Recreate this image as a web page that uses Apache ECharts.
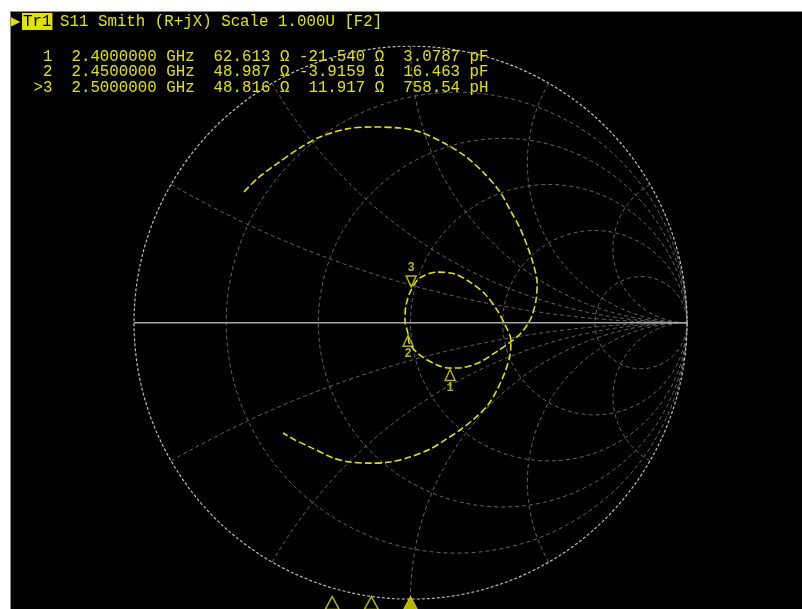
<!DOCTYPE html>
<html>
<head>
<meta charset="utf-8">
<script src="https://cdn.jsdelivr.net/npm/echarts@6/dist/echarts.min.js"></script>
<style>
  html, body { margin: 0; padding: 0; background: #fff; }
  #panel { position: absolute; left: 10px; top: 11px; width: 792px; height: 598px; box-sizing: border-box;
           background: #000; border-left: 1px solid #8a8a8a; border-top: 1px solid #8a8a8a; }
  #chart { position: absolute; left: 0; top: 0; width: 802px; height: 609px; }
</style>
</head>
<body>
<div id="panel"></div>
<div id="chart"></div>
<script>
// S11 trace, reflection coefficient (real / imaginary), 2.0 GHz -> 3.0 GHz
const traceGammaRe = [-0.602, -0.552, -0.490, -0.400, -0.327, -0.230, -0.139, -0.038, 0.034, 0.121,
  0.197, 0.266, 0.324, 0.360, 0.396, 0.421, 0.443, 0.458, 0.454, 0.436,
  0.403, 0.367, 0.316, 0.244, 0.172, 0.143, 0.096, 0.034, -0.005, -0.009,
  -0.020, -0.016, 0.003, 0.034, 0.096, 0.161, 0.215, 0.269, 0.313, 0.342,
  0.363, 0.360, 0.342, 0.313, 0.280, 0.233, 0.179, 0.125, 0.071, -0.002,
  -0.074, -0.146, -0.219, -0.280, -0.363, -0.418, -0.461];
const traceGammaIm = [0.473, 0.523, 0.570, 0.632, 0.672, 0.701, 0.708, 0.704, 0.690, 0.650,
  0.603, 0.541, 0.473, 0.408, 0.342, 0.281, 0.216, 0.144, 0.082, 0.017,
  -0.034, -0.066, -0.102, -0.146, -0.164, -0.164, -0.153, -0.117, -0.073, -0.040,
  0.010, 0.064, 0.120, 0.162, 0.183, 0.176, 0.147, 0.104, 0.046, -0.008,
  -0.063, -0.117, -0.178, -0.243, -0.298, -0.345, -0.388, -0.424, -0.457, -0.486,
  -0.504, -0.508, -0.504, -0.489, -0.450, -0.424, -0.399];

// Marker readout
const markerIds = [1, 2, 3];
const markerFreqGHz = [2.4, 2.45, 2.5];
const markerR = [62.613, 48.987, 48.816];      // ohm
const markerX = [-21.540, -3.9159, 11.917];    // ohm
const markerLC = [3.0787, 16.463, 758.54];
const markerLCUnit = ['pF', 'pF', 'pH'];
const activeMarker = 3;

const sweepStartGHz = 2.0;
const sweepStopGHz = 3.0;
const Z0 = 50;

// Smith grid: constant resistance circles and constant reactance arcs (normalized)
const resistanceCircles = [0.2, 0.5, 1, 2, 5];
const reactanceArcs = [0.268, 0.577, 1, 1.732, 3.732];

const titleText = 'S11 Smith (R+jX) Scale 1.000U [F2]';
const traceTag = 'Tr1';

const YELLOW = '#e2e200';
const MONO = '"Liberation Mono", "DejaVu Sans Mono", monospace';

function gammaOf(r, x) {
  const den = (r + 1) * (r + 1) + x * x;
  return [(r * r + x * x - 1) / den, (2 * x) / den];
}

function resistancePath(r) {
  const pts = [[1, 0]];
  for (let d = -89.5; d <= 89.5; d += 0.5) pts.push(gammaOf(r, Math.tan(d * Math.PI / 180)));
  pts.push([1, 0]);
  return pts;
}

function reactancePath(x) {
  const pts = [];
  for (let d = 0; d < 90; d += 0.5) pts.push(gammaOf(Math.tan(d * Math.PI / 180), x));
  pts.push([1, 0]);
  return pts;
}

function gridLine(data, color, dash, width) {
  return {
    type: 'line', xAxisIndex: 0, yAxisIndex: 0, data, showSymbol: false, silent: true,
    animation: false, z: 1,
    lineStyle: { color, width: width || 1, type: dash }
  };
}

const series = [];
resistanceCircles.forEach(r => series.push(gridLine(resistancePath(r), '#666666', [4, 3])));
reactanceArcs.forEach(x => {
  series.push(gridLine(reactancePath(x), '#666666', [4, 3]));
  series.push(gridLine(reactancePath(-x), '#666666', [4, 3]));
});
series.push(gridLine(resistancePath(0), '#bdbdbd', [3, 2], 1.2));
series.push(gridLine([[-1, 0], [1, 0]], '#a8a8a8', 'solid', 1.6));

// measured trace
series.push({
  type: 'line', xAxisIndex: 0, yAxisIndex: 0, showSymbol: false, animation: false, z: 5,
  smooth: 0.3,
  data: traceGammaRe.map((v, i) => [v, traceGammaIm[i]]),
  lineStyle: { color: YELLOW, width: 1.6, type: [7, 3] }
});

// marker glyphs on the trace, placed from the readout impedance
const markerPoints = markerIds.map((id, i) => {
  const g = gammaOf(markerR[i] / Z0, markerX[i] / Z0);
  const above = id === activeMarker;
  return {
    value: g,
    symbolRotate: above ? 180 : 0,
    symbolOffset: above ? [0, -8] : [0, 7],
    label: { show: true, formatter: String(id), position: above ? 'top' : 'bottom', distance: 1 }
  };
});
series.push({
  type: 'scatter', xAxisIndex: 0, yAxisIndex: 0, animation: false, z: 6,
  symbol: 'triangle', symbolSize: [10, 11],
  itemStyle: { color: 'rgba(0,0,0,0)', borderColor: YELLOW, borderWidth: 1.5 },
  label: { color: YELLOW, fontSize: 12, fontWeight: 'bold', fontFamily: MONO },
  data: markerPoints
});

// marker positions along the stimulus span
series.push({
  type: 'scatter', xAxisIndex: 1, yAxisIndex: 1, animation: false, z: 6,
  symbol: 'triangle', symbolSize: [14, 13],
  data: markerIds.map((id, i) => ({
    value: [markerFreqGHz[i], 0.5],
    itemStyle: id === activeMarker
      ? { color: YELLOW, borderColor: YELLOW, borderWidth: 1 }
      : { color: 'rgba(0,0,0,0)', borderColor: YELLOW, borderWidth: 1.5 }
  }))
});

function fmt5(v) { return v.toPrecision(5); }
const readoutRows = markerIds.map((id, i) =>
  (id === activeMarker ? '>' : ' ') + id + '  ' + markerFreqGHz[i].toFixed(7) + ' GHz  ' +
  fmt5(markerR[i]).padStart(6) + ' \u03A9 ' + fmt5(markerX[i]).padStart(7) + ' \u03A9  ' +
  fmt5(markerLC[i]).padStart(6) + ' ' + markerLCUnit[i]);

const textFont = '15.8px ' + MONO;
const graphic = [
  { type: 'text', x: 11, y: 21.5, z: 10,
    style: { text: '\u25B6', fill: YELLOW, font: '12px "DejaVu Sans"', verticalAlign: 'middle' } },
  { type: 'text', x: 22, y: 21.5, z: 10,
    style: { text: traceTag, fill: '#000', font: textFont, verticalAlign: 'middle',
             backgroundColor: YELLOW, padding: [1, 1, 0, 1] } },
  { type: 'text', x: 60, y: 21.5, z: 10,
    style: { text: titleText, fill: YELLOW, font: textFont, verticalAlign: 'middle' } }
];
readoutRows.forEach((row, i) => graphic.push({
  type: 'text', x: 33.5, y: 56.5 + i * 15.5, z: 10,
  style: { text: row, fill: YELLOW, font: textFont, verticalAlign: 'middle' }
}));

const chart = echarts.init(document.getElementById('chart'));
chart.setOption({
  backgroundColor: 'transparent',
  animation: false,
  grid: [
    { left: 134, top: 46.2, width: 553, height: 553 },
    { left: 19, top: 597, width: 791, height: 20 }
  ],
  xAxis: [
    { type: 'value', gridIndex: 0, min: -1, max: 1, show: false },
    { type: 'value', gridIndex: 1, min: sweepStartGHz, max: sweepStopGHz, show: false }
  ],
  yAxis: [
    { type: 'value', gridIndex: 0, min: -1, max: 1, show: false },
    { type: 'value', gridIndex: 1, min: 0, max: 1, show: false }
  ],
  graphic,
  series
});
</script>
</body>
</html>
